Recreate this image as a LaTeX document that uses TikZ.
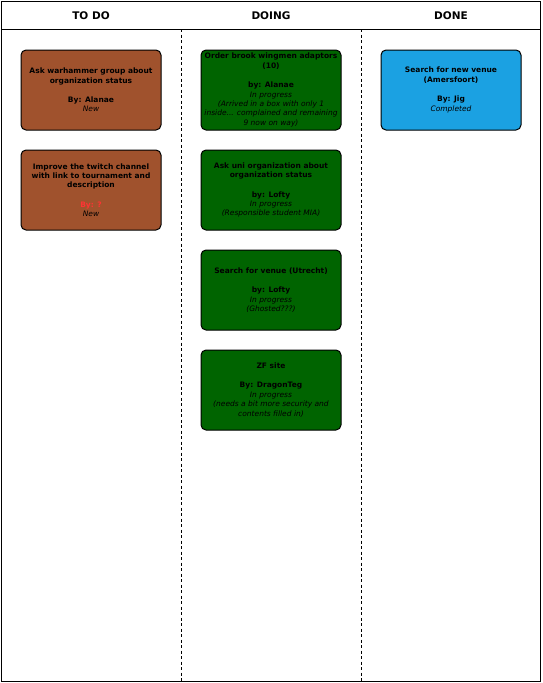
\documentclass[tikz,border=0pt]{standalone}
\usepackage{fontspec}
\setmainfont{DejaVu Sans}
\begin{document}
\begin{tikzpicture}[x=1pt,y=-1pt,
  card/.style={draw=black,line width=1pt,rounded corners=5pt,minimum width=140pt,minimum height=80pt,
    inner sep=0pt,align=center,font=\fontsize{7.5}{9.4}\selectfont},
  todo/.style={card,fill=todobrown},
  doing/.style={card,fill=doinggreen},
  done/.style={card,fill=doneblue},
  head/.style={font=\fontsize{10.5}{12}\selectfont\bfseries},
  lane/.style={dashed,line width=0.6pt,dash pattern=on 3pt off 2.5pt}]
\definecolor{todobrown}{HTML}{A0522D}
\definecolor{doinggreen}{HTML}{006400}
\definecolor{doneblue}{HTML}{1BA1E2}
\definecolor{missing}{HTML}{FF3333}
\useasboundingbox (0,0) rectangle (542,683);
% board frame and header row
\draw[line width=1.6pt,fill=white] (1.5,1.5) rectangle (540.5,681.5);
\draw[line width=1pt] (1.5,29) -- (540.5,29);
\coordinate (l1t) at (181,29); \coordinate (l1b) at (181,681);
\coordinate (l2t) at (361,29); \coordinate (l2b) at (361,681);
\draw[lane] (l1t) -- (l1b);
\draw[lane] (l2t) -- (l2b);
\node[head] (h1) at (91,15.5) {TO DO};
\node[head] (h2) at (271,15.5) {DOING};
\node[head] (h3) at (451,15.5) {DONE};
% TO DO
\node[todo] (c1) at (91,90) {\textbf{Ask warhammer group about}\\\textbf{organization status}\\[10pt]
  \textbf{By: Alanae}\\\textit{New}};
\node[todo] (c2) at (91,190) {\textbf{Improve the twitch channel}\\\textbf{with link to tournament and}\\\textbf{description}\\[10pt]
  \textcolor{missing}{\textbf{By: ?}}\\\textit{New}};
% DOING
\node[doing] (c3) at (271,90) {\textbf{Order brook wingmen adaptors}\\\textbf{(10)}\\[10pt]
  \textbf{by: Alanae}\\\textit{In progress}\\\textit{(Arrived in a box with only 1}\\\textit{inside... complained and remaining}\\\textit{9 now on way)}};
\node[doing] (c4) at (271,190) {\textbf{Ask uni organization about}\\\textbf{organization status}\\[10pt]
  \textbf{by: Lofty}\\\textit{In progress}\\\textit{(Responsible student MIA)}};
\node[doing] (c5) at (271,290) {\textbf{Search for venue (Utrecht)}\\[10pt]
  \textbf{by: Lofty}\\\textit{In progress}\\\textit{(Ghosted???)}};
\node[doing] (c6) at (271,390) {\textbf{ZF site}\\[10pt]
  \textbf{By: DragonTeg}\\\textit{In progress}\\\textit{(needs a bit more security and}\\\textit{contents filled in)}};
% DONE
\node[done] (c7) at (451,90) {\textbf{Search for new venue}\\\textbf{(Amersfoort)}\\[10pt]
  \textbf{By: Jig}\\\textit{Completed}};
\end{tikzpicture}
\end{document}
